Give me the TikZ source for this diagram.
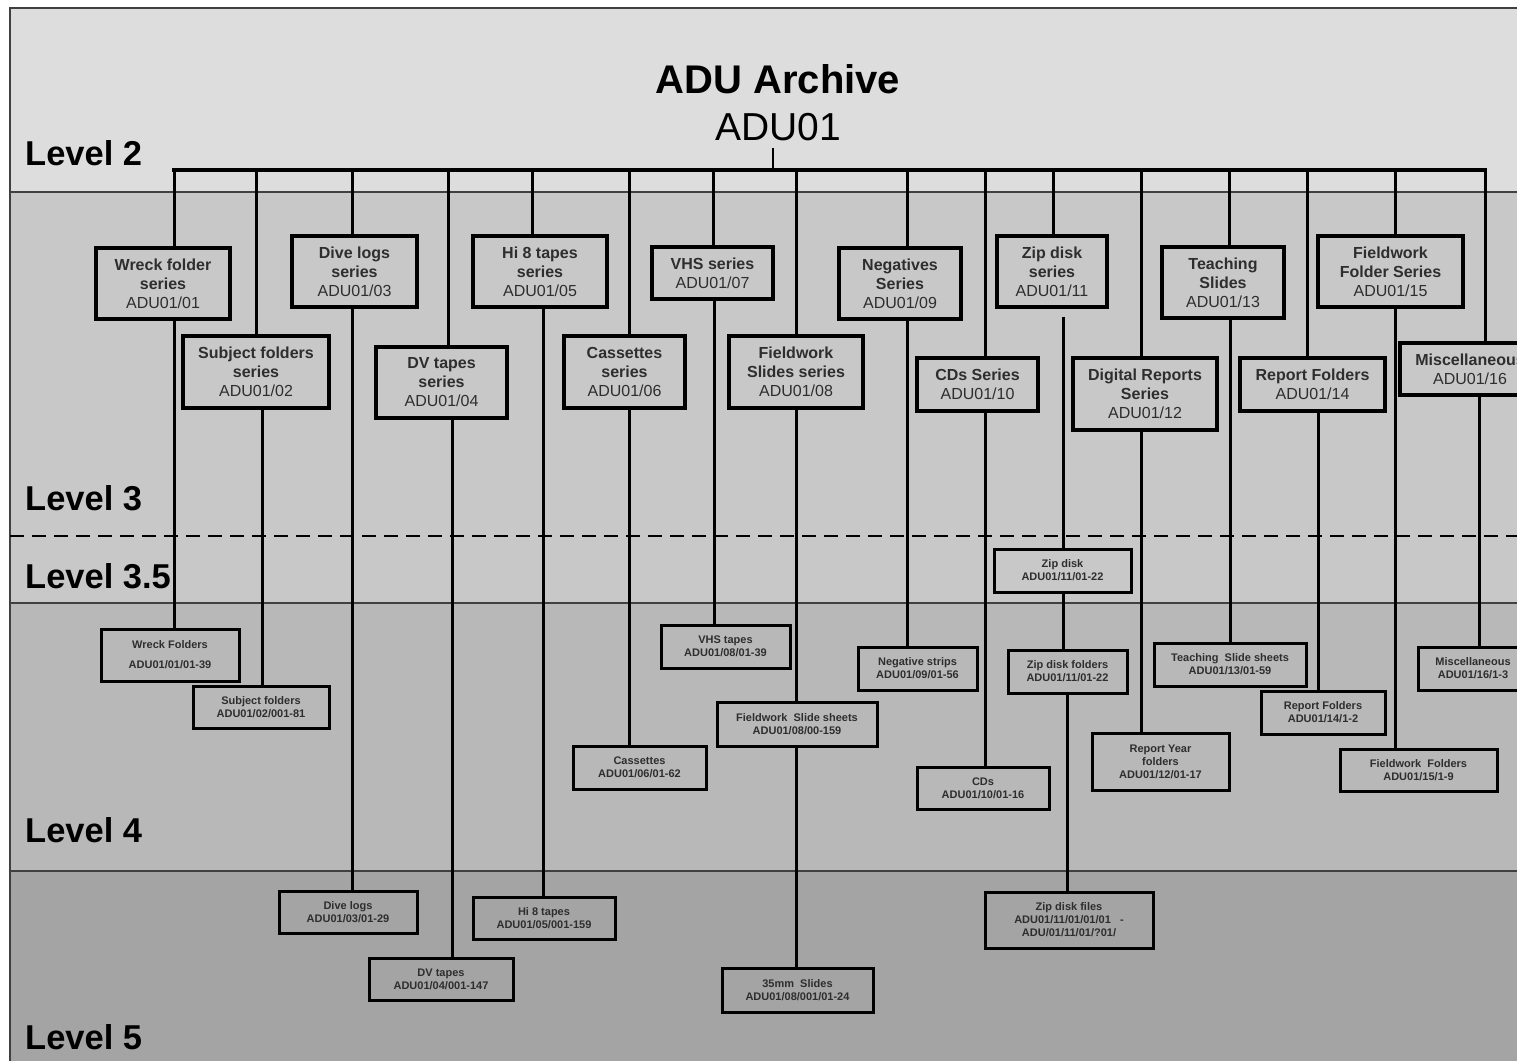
\documentclass[tikz,border=0pt]{standalone}
\usepackage{fontspec}
\setmainfont{Liberation Sans}
\definecolor{bandA}{RGB}{221,221,221}
\definecolor{bandB}{RGB}{200,200,200}
\definecolor{bandC}{RGB}{184,184,184}
\definecolor{bandD}{RGB}{164,164,164}
\begin{document}
\begin{tikzpicture}[x=1pt,y=-1pt,
  sep/.style={line width=1.4pt, draw=black!75},
  l3/.style={draw=black, line width=3.2pt, align=center, inner sep=0pt, text=black!82, font=\fontsize{16}{19}\selectfont},
  l4/.style={draw=black, line width=3pt, align=center, inner sep=0pt, text=black!82, font=\bfseries\fontsize{11}{13}\selectfont},
  link/.style={line width=3pt, draw=black},
  bus/.style={line width=3.2pt, draw=black, line cap=rect},
  lvl/.style={anchor=base west, inner sep=0pt, font=\bfseries\fontsize{34.5}{40}\selectfont}
]
\useasboundingbox (0,0) rectangle (1517,1060);
\clip (0,0) rectangle (1517,1060);
\fill[white] (0,0) rectangle (1517,1060);
% bands
\fill[bandA] (10,8) rectangle (1530,192);
\fill[bandB] (10,192) rectangle (1530,603);
\fill[bandC] (10,603) rectangle (1530,871);
\fill[bandD] (10,871) rectangle (1530,1070);
\draw[sep] (1530,8) -- (10,8) -- (10,1070);
\draw[sep] (10,192) -- (1530,192);
\draw[sep] (10,603) -- (1530,603);
\draw[sep] (10,871) -- (1530,871);
\draw[line width=2.8pt, dash pattern=on 14pt off 8pt] (10,536) -- (1530,536);

% level labels
\node[lvl] (L2) at (25,165) {Level 2};
\node[lvl] (L3) at (25,510) {Level 3};
\node[lvl] (L35) at (25,588) {Level 3.5};
\node[lvl] (L4) at (25,842) {Level 4};
\node[lvl] (L5) at (25,1049) {Level 5};

% title
\node[anchor=base, inner sep=0pt, font=\bfseries\fontsize{40}{48}\selectfont] (t1) at (778,93) {ADU Archive};
\node[anchor=base, inner sep=0pt, font=\fontsize{39}{48}\selectfont] (t2) at (778,140) {ADU01};

% level 3 boxes
\node[l3, minimum width=134, minimum height=71] (s01) at (163,283.5) {\textbf{Wreck folder}\\\textbf{series}\\ADU01/01};
\node[l3, minimum width=146, minimum height=72] (s02) at (256,372) {\textbf{Subject folders}\\\textbf{series}\\ADU01/02};
\node[l3, minimum width=125, minimum height=71] (s03) at (354.5,271.5) {\textbf{Dive logs}\\\textbf{series}\\ADU01/03};
\node[l3, minimum width=131, minimum height=71] (s04) at (441.5,382.5) {\textbf{DV tapes}\\\textbf{series}\\ADU01/04};
\node[l3, minimum width=134, minimum height=71] (s05) at (540,271.5) {\textbf{Hi 8 tapes}\\\textbf{series}\\ADU01/05};
\node[l3, minimum width=121, minimum height=72] (s06) at (624.5,372) {\textbf{Cassettes}\\\textbf{series}\\ADU01/06};
\node[l3, minimum width=121, minimum height=52] (s07) at (712.5,273) {\textbf{VHS series}\\ADU01/07};
\node[l3, minimum width=134, minimum height=72] (s08) at (796,372) {\textbf{Fieldwork}\\\textbf{Slides series}\\ADU01/08};
\node[l3, minimum width=122, minimum height=71] (s09) at (900,283.5) {\textbf{Negatives}\\\textbf{Series}\\ADU01/09};
\node[l3, minimum width=121, minimum height=53] (s10) at (977.5,384.5) {\textbf{CDs Series}\\ADU01/10};
\node[l3, minimum width=110, minimum height=71] (s11) at (1052,271.5) {\textbf{Zip disk}\\\textbf{series}\\ADU01/11};
\node[l3, minimum width=144, minimum height=72] (s12) at (1145,394) {\textbf{Digital Reports}\\\textbf{Series}\\ADU01/12};
\node[l3, minimum width=122, minimum height=71] (s13) at (1223,282.5) {\textbf{Teaching}\\\textbf{Slides}\\ADU01/13};
\node[l3, minimum width=145, minimum height=53] (s14) at (1312.5,384.5) {\textbf{Report Folders}\\ADU01/14};
\node[l3, minimum width=145, minimum height=71] (s15) at (1390.5,271.5) {\textbf{Fieldwork}\\\textbf{Folder Series}\\ADU01/15};
\node[l3, minimum width=140, minimum height=52] (s16) at (1470,369) {\textbf{Miscellaneous}\\ADU01/16};

% level 3.5 / 4 / 5 boxes
\node[l4, minimum width=138, minimum height=52] (c01) at (170,655) {Wreck Folders\\[7pt]ADU01/01/01-39};
\node[l4, minimum width=136, minimum height=42] (c02) at (261,707) {Subject folders\\ADU01/02/001-81};
\node[l4, minimum width=138, minimum height=42] (c03) at (348,912) {Dive logs\\ADU01/03/01-29};
\node[l4, minimum width=144, minimum height=42] (c04) at (441,979) {DV tapes\\ADU01/04/001-147};
\node[l4, minimum width=142, minimum height=42] (c05) at (544,918) {Hi 8 tapes\\ADU01/05/001-159};
\node[l4, minimum width=133, minimum height=43] (c06) at (639.5,767.5) {Cassettes\\ADU01/06/01-62};
\node[l4, minimum width=129, minimum height=43] (c07) at (725.5,646.5) {VHS tapes\\ADU01/08/01-39};
\node[l4, minimum width=160, minimum height=44] (c08a) at (797,724) {Fieldwork\ \ Slide sheets\\ADU01/08/00-159};
\node[l4, minimum width=151, minimum height=44] (c08b) at (797.5,990) {35mm\ \ Slides\\ADU01/08/001/01-24};
\node[l4, minimum width=119, minimum height=43] (c09) at (917.5,668.5) {Negative strips\\ADU01/09/01-56};
\node[l4, minimum width=132, minimum height=42] (c10) at (983,788) {CDs\\ADU01/10/01-16};
\node[l4, minimum width=137, minimum height=43] (c11a) at (1062.5,570.5) {Zip disk\\ADU01/11/01-22};
\node[l4, minimum width=119, minimum height=43] (c11b) at (1067.5,671.5) {Zip disk folders\\ADU01/11/01-22};
\node[l4, minimum width=168, minimum height=56] (c11c) at (1069,920) {Zip disk files\\ADU01/11/01/01/01\ \ \ -\\ADU/01/11/01/?01/};
\node[l4, minimum width=137, minimum height=57] (c12) at (1160.5,761.5) {Report Year\\folders\\ADU01/12/01-17};
\node[l4, minimum width=152, minimum height=43] (c13) at (1230,664.5) {Teaching\ \ Slide sheets\\ADU01/13/01-59};
\node[l4, minimum width=124, minimum height=43] (c14) at (1323,712.5) {Report Folders\\ADU01/14/1-2};
\node[l4, minimum width=157, minimum height=42] (c15) at (1418.5,770) {Fieldwork\ \ Folders\\ADU01/15/1-9};
\node[l4, minimum width=110, minimum height=43] (c16) at (1473,668.5) {Miscellaneous\\ADU01/16/1-3};

% bus
\coordinate (bL) at (174,170);
\coordinate (bR) at (1485,170);
\coordinate (stem) at (773,148);
\draw[line width=2pt] (stem) -- (stem |- bL);
\foreach \i/\x in {01/174,02/256,03/352,04/448,05/532,06/629,07/713,08/796,09/907,10/985,11/1053,12/1141,13/1229,14/1307,15/1395,16/1485}{
  \coordinate (d\i) at (\x,170);
  \draw[link] (d\i) -- (d\i |- s\i.north);
}
\draw[bus] (bL) -- (bR);

% lower connectors
\foreach \p/\c/\x in {s01/c01/174,s02/c02/262,s03/c03/352,s04/c04/452,s05/c05/543,s06/c06/629,s07/c07/714,s08/c08a/796,c08a/c08b/796,s09/c09/907,s10/c10/985,c11a/c11b/1063,c11b/c11c/1067,s12/c12/1141,s13/c13/1230,s14/c14/1318,s15/c15/1395,s16/c16/1479}{
  \coordinate (k) at (\x,0);
  \draw[link] (k |- \p.south) -- (k |- \c.north);
}
\coordinate (k11) at (1063,0);
\draw[link, shorten <=8pt] (k11 |- s11.south) -- (k11 |- c11a.north);
\end{tikzpicture}
\end{document}
